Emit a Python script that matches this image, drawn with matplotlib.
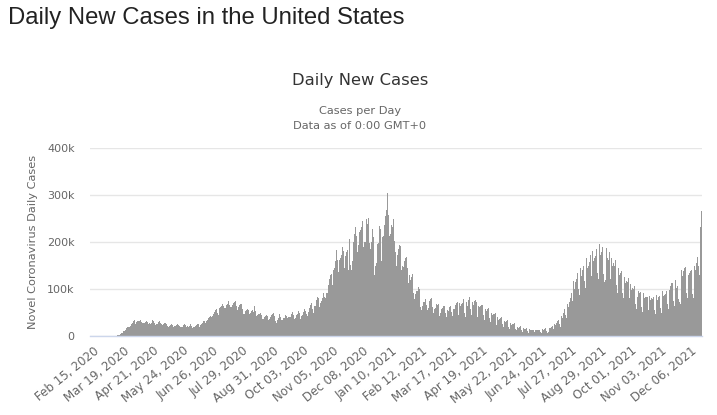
import matplotlib.pyplot as plt
import matplotlib.transforms as mtransforms
import pandas as pd

# daily new cases in thousands, one row per week (Sat..Fri), starting Sat Feb 15, 2020
cases_2020 = [
    0, 0, 0, 0, 0, 0, 0,
    0, 0, 0, 0, 0, 0, 0,
    0, 0, 0, 0, 0, 0.1, 0.1,
    0.1, 0.1, 0.2, 0.3, 0.4, 0.4, 0.6,
    0.7, 0.8, 1.2, 1.6, 2.7, 4.5, 5.8,
    7.3, 9.0, 10.9, 11.4, 13.3, 17.4, 18.7,
    19.5, 19.0, 21.5, 25.0, 27.0, 29.5, 32.0,
    33.0, 26.5, 29.0, 31.5, 31.0, 32.5, 33.5,
    30.5, 27.5, 25.5, 27.0, 28.5, 30.0, 32.0,
    30.0, 26.0, 27.0, 26.5, 28.0, 31.5, 33.0,
    31.0, 27.0, 23.5, 24.5, 26.5, 29.5, 32.0,
    28.0, 25.0, 22.5, 23.0, 25.0, 27.5, 28.5,
    25.0, 20.5, 19.5, 22.0, 22.5, 27.5, 25.5,
    24.0, 18.5, 21.0, 20.5, 23.0, 25.5, 24.0,
    22.0, 19.0, 17.5, 19.0, 20.0, 22.5, 24.5,
    23.5, 19.5, 20.5, 20.0, 21.0, 22.0, 24.5,
    22.0, 18.0, 18.5, 20.0, 21.5, 23.0, 25.0,
    25.0, 19.5, 19.0, 23.0, 25.5, 28.0, 32.0,
    32.0, 27.0, 31.0, 35.0, 37.5, 39.5, 45.5,
    43.0, 40.5, 42.0, 47.5, 50.5, 56.0, 57.5,
    48.0, 45.5, 51.0, 60.0, 61.0, 63.0, 68.5,
    63.0, 60.0, 59.5, 66.0, 68.5, 74.5, 76.0,
    67.0, 61.0, 61.5, 66.0, 69.5, 73.0, 75.5,
    64.5, 56.0, 57.5, 61.0, 66.0, 67.5, 68.0,
    58.0, 47.5, 47.0, 52.5, 55.5, 58.5, 61.0,
    56.0, 46.0, 48.5, 52.5, 55.0, 52.0, 63.5,
    52.5, 42.0, 38.5, 44.5, 47.0, 46.0, 49.0,
    44.5, 35.5, 37.0, 40.5, 43.5, 45.5, 48.5,
    43.5, 34.5, 36.0, 41.0, 44.5, 46.0, 50.0,
    42.5, 31.5, 25.0, 28.5, 35.0, 37.5, 47.0,
    40.5, 34.5, 35.0, 38.5, 39.0, 44.5, 48.5,
    43.0, 37.5, 39.5, 40.5, 40.0, 46.0, 51.0,
    45.0, 35.5, 37.5, 42.0, 45.0, 47.5, 52.5,
    49.0, 37.0, 43.5, 45.5, 52.0, 56.5, 58.5,
    54.0, 46.5, 42.5, 51.5, 59.5, 65.0, 70.5,
    56.5, 49.5, 63.5, 62.0, 63.5, 76.0, 84.0,
    80.0, 62.5, 69.5, 75.0, 80.5, 92.5, 101.0,
    83.0, 81.0, 91.5, 92.0, 108.0, 122.0, 130.0,
    131.0, 108.5, 140.0, 138.5, 145.0, 160.0, 182.0,
    162.0, 136.0, 162.0, 165.0, 172.0, 190.0, 200.5,
    180.0, 144.0, 171.0, 178.0, 184.0, 140.0, 207.0,
    152.0, 140.0, 160.0, 180.0, 200.0, 217.0, 232.0,
    212.0, 178.0, 193.0, 222.0, 225.0, 232.0, 245.0,
    212.0, 190.0, 200.0, 200.0, 248.0, 238.0, 250.0,
    198.0, 185.0, 200.0, 202.0, 228.0, 210.0, 130.0,
    150.0, 155.0, 195.0, 198.0, 235.0, 228.0,
]

# Fri Jan 1, 2021, then weeks Sat..Fri, ending Tue Dec 21, 2021
cases_2021 = [
    160,
    245, 210, 212, 236, 256, 268, 305,
    258, 212, 218, 226, 236, 232, 248,
    203, 178, 148, 172, 185, 193, 192,
    172, 140, 150, 147, 160, 165, 168,
    145, 112, 130, 118, 120, 125, 132,
    92, 78, 90, 95, 96, 105, 100,
    80, 62, 55, 63, 73, 72, 78,
    66, 56, 60, 72, 75, 78, 80,
    62, 50, 58, 60, 68, 66, 69,
    52, 42, 48, 57, 60, 63, 64,
    50, 40, 55, 54, 59, 62, 64,
    52, 42, 57, 57, 66, 70, 73,
    56, 44, 70, 63, 69, 71, 78,
    50, 40, 73, 64, 74, 77, 83,
    58, 45, 72, 67, 75, 76, 73,
    52, 40, 64, 62, 64, 65, 65,
    45, 34, 57, 53, 57, 57, 59,
    38, 29, 48, 44, 47, 47, 49,
    31, 24, 40, 35, 37, 39, 40,
    25, 19, 32, 29, 31, 32, 34,
    20, 15, 27, 24, 26, 26, 27,
    15, 10, 12, 20, 18, 19, 21,
    12, 8, 17, 15, 15, 15, 16,
    10, 7, 14, 13, 13, 12, 13,
    9, 6, 13, 12, 13, 12, 13,
    9, 7, 15, 13, 15, 15, 16,
    10, 7, 8, 17, 17, 19, 21,
    14, 10, 26, 24, 28, 31, 34,
    26, 20, 42, 38, 45, 50, 57,
    45, 38, 68, 62, 72, 80, 92,
    75, 62, 118, 100, 115, 122, 134,
    100, 88, 145, 128, 138, 140, 150,
    118, 102, 166, 145, 150, 158, 172,
    128, 115, 180, 160, 165, 170, 186,
    135, 122, 195, 172, 178, 182, 190,
    132, 115, 120, 188, 165, 162, 178,
    122, 108, 166, 150, 155, 148, 162,
    108, 92, 145, 130, 135, 128, 138,
    92, 80, 126, 112, 116, 114, 124,
    80, 68, 110, 98, 102, 100, 106,
    68, 58, 84, 95, 92, 90, 94,
    62, 52, 92, 80, 84, 82, 84,
    56, 48, 86, 76, 80, 78, 84,
    55, 47, 87, 76, 82, 82, 86,
    60, 50, 95, 86, 88, 90, 96,
    68, 58, 110, 98, 106, 112, 113,
    74, 64, 120, 102, 106, 70, 78,
    72, 68, 140, 128, 138, 145, 147,
    92, 80, 148, 130, 134, 138, 140,
    90, 80, 150, 140, 155, 160, 168,
    150, 130, 232, 265,
]

start_date = "2020-02-15"
tick_step = 33
y_ticks = [0, 100, 200, 300, 400]
y_labels = ["0", "100k", "200k", "300k", "400k"]

daily = cases_2020 + cases_2021
dates = pd.date_range(start_date, periods=len(daily), freq="D")
xs = list(range(len(daily)))

W, H = 717, 415
fig = plt.figure(figsize=(W / 100, H / 100), dpi=100)
fig.patch.set_facecolor("white")

# plot area in pixels: x 90..702, y 148..336
ax = fig.add_axes([90 / W, 1 - 336 / H, 612 / W, 188 / H])
ax.bar(xs, daily, width=1.0, color="#999999", linewidth=0, zorder=2)

ax.set_xlim(-0.5, len(daily) - 0.5)
ax.set_ylim(0, 400)
ax.set_yticks(y_ticks)
ax.set_yticklabels(y_labels)
ticks = xs[::tick_step]
ax.set_xticks(ticks)
ax.set_xticklabels([dates[i].strftime("%b %d, %Y") for i in ticks],
                   rotation=39, ha="right", rotation_mode="anchor")

ax.yaxis.grid(True, color="#e6e6e6", linewidth=1)
ax.set_axisbelow(True)
for s in ["top", "right", "left"]:
    ax.spines[s].set_visible(False)
ax.spines["bottom"].set_color("#ccd6eb")
ax.spines["bottom"].set_linewidth(1)
ax.spines["bottom"].set_zorder(3)

ax.tick_params(axis="y", length=0, pad=11, labelsize=8, labelcolor="#666666")
ax.tick_params(axis="x", length=0, pad=6, labelsize=8.6, labelcolor="#666666")
shift = mtransforms.ScaledTranslation(3 / 100, 0, fig.dpi_scale_trans)
for lab in ax.get_xticklabels():
    lab.set_family("DejaVu Sans")
    lab.set_transform(lab.get_transform() + shift)
for lab in ax.get_yticklabels():
    lab.set_family("DejaVu Sans")

fig.text(33 / W, 1 - 242 / H, "Novel Coronavirus Daily Cases", rotation=90,
         ha="center", va="center", fontsize=8.2, color="#666666", family="DejaVu Sans")

fig.text(8 / W, 1 - 18 / H, "Daily New Cases in the United States",
         ha="left", va="center", fontsize=17.2, color="#222222", family="Liberation Sans")
fig.text(0.502, 1 - 80 / H, "Daily New Cases", ha="center", va="center",
         fontsize=11.8, color="#333333", family="DejaVu Sans")
fig.text(0.502, 1 - 111 / H, "Cases per Day", ha="center", va="center",
         fontsize=8.2, color="#666666", family="DejaVu Sans")
fig.text(0.502, 1 - 126 / H, "Data as of 0:00 GMT+0", ha="center", va="center",
         fontsize=8.2, color="#666666", family="DejaVu Sans")

fig.savefig("out.png", dpi=100)
